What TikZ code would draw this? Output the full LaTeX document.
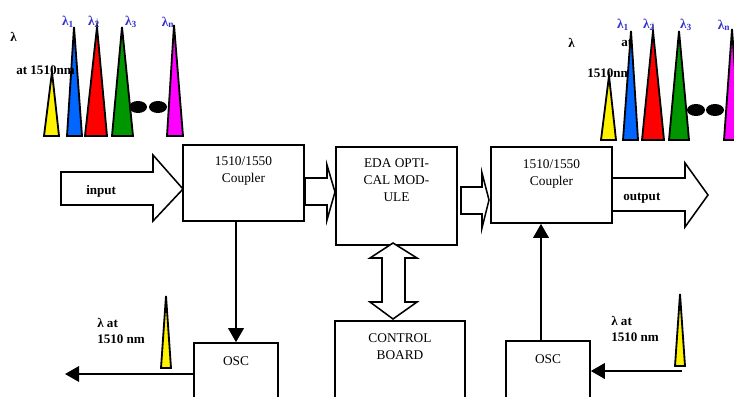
\documentclass[tikz,border=0pt]{standalone}
\usepackage{fontspec}
\setmainfont{Liberation Serif}
\usetikzlibrary{arrows.meta,calc}
\definecolor{lamblue}{RGB}{51,51,204}
\definecolor{spkblue}{RGB}{0,102,255}
\definecolor{spkgreen}{RGB}{0,150,0}
\definecolor{spkmag}{RGB}{255,0,255}

\begin{document}
\begin{tikzpicture}[x=0.025cm,y=-0.025cm,
  blk/.style={draw,line width=1.1pt,minimum width=3.025cm,minimum height=1.9cm,inner sep=0pt},
  txt/.style={align=center,font=\fontsize{9.5}{12}\selectfont,inner sep=0pt},
  lbl/.style={align=left,font=\fontsize{9.3}{11.5}\selectfont\bfseries,inner sep=0pt,anchor=west},
  lam/.style={font=\fontsize{9.5}{10}\selectfont\bfseries,text=lamblue,inner sep=0pt},
  fat/.style={draw,fill=white,line width=1.1pt,line join=miter},
  spike/.style={draw,line width=1.3pt,line join=miter},
  arr/.style={-{Triangle[length=10pt,width=11pt]},line width=1.5pt}]
\useasboundingbox (0,0) rectangle (734,396);
\clip (0,0) rectangle (734,396);

% spectrum, left
\foreach \xa/\xt/\xb/\yt/\col in {44/52/59/72/yellow,67/74/82/27/spkblue,85/97/107/27/red,112/122/133/27/spkgreen,167/174/183/25/spkmag}
  \draw[spike,fill=\col] (\xa,136) -- (\xt,\yt) -- (\xb,136) -- cycle;
\fill (138,107) ellipse (9 and 6);
\fill (158,107) ellipse (9 and 6);
\node[lbl] (laml) at (10,37) {λ};
\node[lbl] (atl) at (16,70) {at 1510nm};
\node[lam] (l1l) at (68,22) {λ\textsubscript{1}};
\node[lam] (l2l) at (94,22) {λ\textsubscript{2}};
\node[lam] (l3l) at (131,22) {λ\textsubscript{3}};
\node[lam] (lnl) at (168,22) {λ\textsubscript{n}};

% spectrum, right
\node[lbl] (lamr) at (568,43) {λ};
\node[lbl] (atr) at (621,43) {at};
\node[lbl] (nmr) at (587,73) {1510nm};
\foreach \xa/\xt/\xb/\yt/\col in {601/609/616/76/yellow,623/631/638/31/spkblue,642/653/664/31/red,669/679/689/31/spkgreen,724/732/740/29/spkmag}
  \draw[spike,fill=\col] (\xa,140) -- (\xt,\yt) -- (\xb,140) -- cycle;
\fill (696,110) ellipse (9 and 6);
\fill (715,110) ellipse (9 and 6);
\node[lam] (l1r) at (623,25) {λ\textsubscript{1}};
\node[lam] (l2r) at (649,25) {λ\textsubscript{2}};
\node[lam] (l3r) at (686,25) {λ\textsubscript{3}};
\node[lam] (lnr) at (724,25) {λ\textsubscript{n}};

% blocks
\node[blk] (cpl1) at (243.5,183) {};
\node[blk,minimum height=2.45cm] (eda) at (396.5,196) {};
\node[blk] (cpl2) at (551.5,185) {};
\node[blk,minimum width=3.25cm,minimum height=2.45cm] (ctrl) at (400,370) {};
\node[blk,minimum width=2.1cm,minimum height=1.85cm] (osc1) at (236,380) {};
\node[blk,minimum width=2.1cm,minimum height=1.85cm] (osc2) at (548,378) {};
\node[txt,anchor=north] (cpl1t) at ($(cpl1.north)+(0,12)$) {1510/1550\\Coupler};
\node[txt,anchor=north] (edat) at ($(eda.north)+(0,12)$) {EDA OPTI-\\CAL MOD-\\ULE};
\node[txt,anchor=north] (cpl2t) at ($(cpl2.north)+(0,13)$) {1510/1550\\Coupler};
\node[txt,anchor=north] (ctrlt) at ($(ctrl.north)+(0,13)$) {CONTROL\\BOARD};
\node[txt,anchor=north] (osc1t) at ($(osc1.north)+(0,14)$) {OSC};
\node[txt,anchor=north] (osc2t) at ($(osc2.north)+(0,14)$) {OSC};

% block arrows
\draw[fat] (61,172) -- (153,172) -- (153,155) -- (183,189) -- (153,221) -- (153,205) -- (61,205) -- cycle;
\draw[fat] (305,178) -- (327,178) -- (327,165) -- (335,192) -- (327,220) -- (327,205) -- (305,205) -- cycle;
\draw[fat] (461,187) -- (482,187) -- (482,173) -- (489,200) -- (482,228) -- (482,214) -- (461,214) -- cycle;
\draw[fat] (612,178) -- (685,178) -- (685,163) -- (708,195) -- (685,227) -- (685,211) -- (612,211) -- cycle;
\draw[fat] (393,243) -- (417,258) -- (405,258) -- (405,302) -- (417,302) -- (393,319) -- (370,302) -- (382,302) -- (382,258) -- (370,258) -- cycle;
\node[lbl] (inl) at (86,191) {input};
\node[lbl] (outl) at (623,198) {output};

% oscillator lines
\coordinate (out1) at (65,374);
\coordinate (in2) at (682,371);
\draw[arr] (cpl1.south -| osc1.north) -- (osc1.north);
\draw[arr] ($(osc2.north)+(-7,0)$) -- ($(cpl2.south)+(-10.5,0)$);
\draw[arr] (osc1.west |- out1) -- (out1);
\draw[arr] (in2) -- (in2 -| osc2.east);
\draw[spike,fill=yellow] (161,368) -- (166,296) -- (171,368) -- cycle;
\draw[spike,fill=yellow] (675,366) -- (680,294) -- (685,366) -- cycle;
\node[lbl] (pl1) at (97,331) {λ at\\1510 nm};
\node[lbl] (pl2) at (611,329) {λ at\\1510 nm};
\end{tikzpicture}
\end{document}
